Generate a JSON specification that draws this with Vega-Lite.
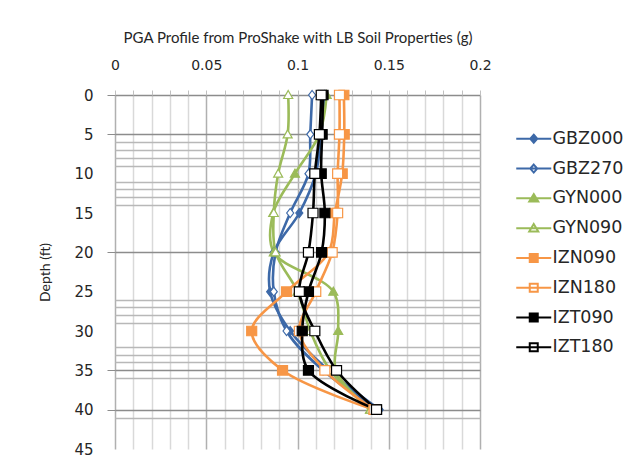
{
  "$schema": "https://vega.github.io/schema/vega-lite/v6.json",
  "width": 365,
  "height": 354,
  "autosize": {"type": "none"},
  "padding": {"left": 115, "top": 95, "right": 158, "bottom": 15},
  "background": "white",
  "config": {
    "view": {"stroke": null},
    "font": "DejaVu Sans"
  },
  "data": {
    "values": [
      {"series": "GBZ000", "depth": 0, "pga": 0.115},
      {"series": "GBZ000", "depth": 5, "pga": 0.113},
      {"series": "GBZ000", "depth": 10, "pga": 0.110},
      {"series": "GBZ000", "depth": 15, "pga": 0.101},
      {"series": "GBZ000", "depth": 20, "pga": 0.087},
      {"series": "GBZ000", "depth": 25, "pga": 0.085},
      {"series": "GBZ000", "depth": 30, "pga": 0.096},
      {"series": "GBZ000", "depth": 35, "pga": 0.117},
      {"series": "GBZ000", "depth": 40, "pga": 0.145},
      {"series": "GBZ270", "depth": 0, "pga": 0.108},
      {"series": "GBZ270", "depth": 5, "pga": 0.107},
      {"series": "GBZ270", "depth": 10, "pga": 0.106},
      {"series": "GBZ270", "depth": 15, "pga": 0.096},
      {"series": "GBZ270", "depth": 20, "pga": 0.088},
      {"series": "GBZ270", "depth": 25, "pga": 0.087},
      {"series": "GBZ270", "depth": 30, "pga": 0.094},
      {"series": "GBZ270", "depth": 35, "pga": 0.114},
      {"series": "GBZ270", "depth": 40, "pga": 0.144},
      {"series": "GYN000", "depth": 0, "pga": 0.116},
      {"series": "GYN000", "depth": 5, "pga": 0.112},
      {"series": "GYN000", "depth": 10, "pga": 0.0986},
      {"series": "GYN000", "depth": 15, "pga": 0.0867},
      {"series": "GYN000", "depth": 20, "pga": 0.087},
      {"series": "GYN000", "depth": 25, "pga": 0.1196},
      {"series": "GYN000", "depth": 30, "pga": 0.1223},
      {"series": "GYN000", "depth": 35, "pga": 0.121},
      {"series": "GYN000", "depth": 40, "pga": 0.1397},
      {"series": "GYN090", "depth": 0, "pga": 0.0949},
      {"series": "GYN090", "depth": 5, "pga": 0.0946},
      {"series": "GYN090", "depth": 10, "pga": 0.0894},
      {"series": "GYN090", "depth": 15, "pga": 0.087},
      {"series": "GYN090", "depth": 20, "pga": 0.088},
      {"series": "GYN090", "depth": 25, "pga": 0.100},
      {"series": "GYN090", "depth": 30, "pga": 0.107},
      {"series": "GYN090", "depth": 35, "pga": 0.118},
      {"series": "GYN090", "depth": 40, "pga": 0.140},
      {"series": "IZN090", "depth": 0, "pga": 0.1254},
      {"series": "IZN090", "depth": 5, "pga": 0.1256},
      {"series": "IZN090", "depth": 10, "pga": 0.1245},
      {"series": "IZN090", "depth": 15, "pga": 0.1205},
      {"series": "IZN090", "depth": 20, "pga": 0.117},
      {"series": "IZN090", "depth": 25, "pga": 0.094},
      {"series": "IZN090", "depth": 30, "pga": 0.0749},
      {"series": "IZN090", "depth": 35, "pga": 0.0918},
      {"series": "IZN090", "depth": 40, "pga": 0.142},
      {"series": "IZN180", "depth": 0, "pga": 0.123},
      {"series": "IZN180", "depth": 5, "pga": 0.123},
      {"series": "IZN180", "depth": 10, "pga": 0.122},
      {"series": "IZN180", "depth": 15, "pga": 0.122},
      {"series": "IZN180", "depth": 20, "pga": 0.119},
      {"series": "IZN180", "depth": 25, "pga": 0.110},
      {"series": "IZN180", "depth": 30, "pga": 0.101},
      {"series": "IZN180", "depth": 35, "pga": 0.115},
      {"series": "IZN180", "depth": 40, "pga": 0.142},
      {"series": "IZT090", "depth": 0, "pga": 0.114},
      {"series": "IZT090", "depth": 5, "pga": 0.1135},
      {"series": "IZT090", "depth": 10, "pga": 0.113},
      {"series": "IZT090", "depth": 15, "pga": 0.115},
      {"series": "IZT090", "depth": 20, "pga": 0.1132},
      {"series": "IZT090", "depth": 25, "pga": 0.106},
      {"series": "IZT090", "depth": 30, "pga": 0.1026},
      {"series": "IZT090", "depth": 35, "pga": 0.106},
      {"series": "IZT090", "depth": 40, "pga": 0.1433},
      {"series": "IZT180", "depth": 0, "pga": 0.113},
      {"series": "IZT180", "depth": 5, "pga": 0.112},
      {"series": "IZT180", "depth": 10, "pga": 0.1095},
      {"series": "IZT180", "depth": 15, "pga": 0.1085},
      {"series": "IZT180", "depth": 20, "pga": 0.106},
      {"series": "IZT180", "depth": 25, "pga": 0.101},
      {"series": "IZT180", "depth": 30, "pga": 0.1095},
      {"series": "IZT180", "depth": 35, "pga": 0.1214},
      {"series": "IZT180", "depth": 40, "pga": 0.1433}
    ]
  },
  "encoding": {
    "x": {
      "field": "pga",
      "type": "quantitative",
      "scale": {"domain": [0, 0.2], "nice": false, "zero": false},
      "axis": {
        "orient": "top",
        "title": "PGA Profile from ProShake with LB Soil Properties (g)",
        "titleFont": "Lato",
        "titleFontSize": 15,
        "titleFontWeight": "normal",
        "titleColor": "#262626",
        "titlePadding": 13,
        "values": [0, 0.01, 0.02, 0.03, 0.04, 0.05, 0.06, 0.07, 0.08, 0.09, 0.1, 0.11, 0.12, 0.13, 0.14, 0.15, 0.16, 0.17, 0.18, 0.19, 0.2],
        "format": "~g",
        "labelExpr": "indexof([0, 5, 10, 15, 20], round(datum.value * 100)) >= 0 ? datum.label : ''",
        "labelFontSize": 14,
        "labelColor": "#262626",
        "labelPadding": 18,
        "labelFlush": false,
        "labelOverlap": false,
        "domain": false,
        "tickSize": 5,
        "tickColor": "#c0c0c0",
        "gridColor": {"condition": {"test": "indexof([0, 5, 10, 15, 20], round(datum.value * 100)) >= 0", "value": "#b0b0b0"}, "value": "#d9d9d9"},
        "gridWidth": 1.5
      }
    },
    "y": {
      "field": "depth",
      "type": "quantitative",
      "scale": {"domain": [0, 45], "reverse": true, "nice": false},
      "axis": {
        "title": "Depth (ft)",
        "titleFont": "Lato",
        "titleFontSize": 14,
        "titleFontWeight": "normal",
        "titleColor": "#262626",
        "titlePadding": 21,
        "values": [0, 5, 6, 7, 8, 9, 10, 11, 12, 13, 14, 15, 20, 25, 26, 27, 28, 29, 30, 32, 33, 34, 35, 36, 40, 41, 45],
        "labelExpr": "datum.value % 5 === 0 ? datum.label : ''",
        "labelFontSize": 15,
        "labelColor": "#262626",
        "labelPadding": 14,
        "labelFlush": false,
        "labelOverlap": false,
        "domain": false,
        "tickSize": 8,
        "tickColor": "#8c8c8c",
        "tickOpacity": {"condition": {"test": "indexof([0, 5, 20, 35, 40], datum.value) >= 0", "value": 1}, "value": 0},
        "gridColor": {"condition": {"test": "indexof([0, 5, 20, 35, 40], datum.value) >= 0", "value": "#8c8c8c"}, "value": "#b8b8b8"},
        "gridOpacity": {"condition": {"test": "indexof([10, 15, 25, 30, 45], datum.value) >= 0", "value": 0}, "value": 1},
        "gridWidth": 1.5
      }
    }
  },
  "resolve": {"scale": {"shape": "independent", "fill": "independent", "stroke": "independent"}},
  "layer": [
    {
      "mark": {"type": "line", "interpolate": "catmull-rom", "strokeWidth": 2.6},
      "encoding": {
        "color": {
          "field": "series",
          "type": "nominal",
          "legend": null,
          "scale": {
            "domain": ["GBZ000", "GBZ270", "GYN000", "GYN090", "IZN090", "IZN180", "IZT090", "IZT180"],
            "range": ["#3d69a8", "#3d69a8", "#9bbb59", "#9bbb59", "#f79646", "#f79646", "#000000", "#000000"]
          }
        },
        "order": {"field": "depth", "type": "quantitative"}
      }
    },
    {
      "mark": {"type": "point", "size": 100, "strokeWidth": 1.2, "opacity": 1},
      "encoding": {
        "shape": {
          "field": "series",
          "type": "nominal",
          "legend": null,
          "scale": {
            "domain": ["GBZ000", "GBZ270", "GYN000", "GYN090", "IZN090", "IZN180", "IZT090", "IZT180"],
            "range": [
              "M0,-0.9L0.7,0L0,0.9L-0.7,0Z",
              "M0,-0.9L0.7,0L0,0.9L-0.7,0Z",
              "M0,-0.9L0.9,0.7L-0.9,0.7Z",
              "M0,-0.9L0.9,0.7L-0.9,0.7Z",
              "M-1,-0.95H1V0.95H-1Z",
              "M-1,-0.95H1V0.95H-1Z",
              "M-1,-0.95H1V0.95H-1Z",
              "M-1,-0.95H1V0.95H-1Z"
            ]
          }
        },
        "fill": {
          "field": "series",
          "type": "nominal",
          "legend": null,
          "scale": {
            "domain": ["GBZ000", "GBZ270", "GYN000", "GYN090", "IZN090", "IZN180", "IZT090", "IZT180"],
            "range": ["#3d69a8", "#ffffff", "#9bbb59", "#ffffff", "#f79646", "#ffffff", "#000000", "#ffffff"]
          }
        },
        "stroke": {
          "field": "series",
          "type": "nominal",
          "legend": null,
          "scale": {
            "domain": ["GBZ000", "GBZ270", "GYN000", "GYN090", "IZN090", "IZN180", "IZT090", "IZT180"],
            "range": ["#3d69a8", "#3d69a8", "#9bbb59", "#9bbb59", "#f79646", "#f79646", "#000000", "#000000"]
          }
        }
      }
    },
    {
      "transform": [{"filter": "datum.depth < 0"}],
      "mark": {"type": "point", "size": 100, "strokeWidth": 2, "opacity": 1},
      "encoding": {
        "shape": {
          "field": "series",
          "type": "nominal",
          "title": null,
          "scale": {
            "domain": ["GBZ000", "GBZ270", "GYN000", "GYN090", "IZN090", "IZN180", "IZT090", "IZT180"],
            "range": [
              "M-3.5,0H3.5M0,-0.8L0.7,0L0,0.8L-0.7,0Z",
              "M-3.5,0H3.5M0,-0.8L0.7,0L0,0.8L-0.7,0Z",
              "M-3.5,0H3.5M0,-0.85L0.9,0.65L-0.9,0.65Z",
              "M-3.5,0H3.5M0,-0.85L0.9,0.65L-0.9,0.65Z",
              "M-3.5,0H3.5M-0.8,-0.8H0.8V0.8H-0.8Z",
              "M-3.5,0H3.5M-0.8,-0.8H0.8V0.8H-0.8Z",
              "M-3.5,0H3.5M-0.8,-0.8H0.8V0.8H-0.8Z",
              "M-3.5,0H3.5M-0.8,-0.8H0.8V0.8H-0.8Z"
            ]
          },
          "legend": {
            "orient": "right",
            "offset": 10,
            "padding": 35,
            "symbolSize": 100,
            "symbolStrokeWidth": 2,
            "labelOffset": 10,
            "labelFontSize": 17.5,
            "labelFont": "DejaVu Sans",
            "labelColor": "#262626",
            "rowPadding": 10.8
          }
        },
        "fill": {
          "field": "series",
          "type": "nominal",
          "title": null,
          "scale": {
            "domain": ["GBZ000", "GBZ270", "GYN000", "GYN090", "IZN090", "IZN180", "IZT090", "IZT180"],
            "range": ["#3d69a8", "#ffffff", "#9bbb59", "#ffffff", "#f79646", "#ffffff", "#000000", "#ffffff"]
          }
        },
        "stroke": {
          "field": "series",
          "type": "nominal",
          "title": null,
          "scale": {
            "domain": ["GBZ000", "GBZ270", "GYN000", "GYN090", "IZN090", "IZN180", "IZT090", "IZT180"],
            "range": ["#3d69a8", "#3d69a8", "#9bbb59", "#9bbb59", "#f79646", "#f79646", "#000000", "#000000"]
          }
        }
      }
    }
  ]
}
